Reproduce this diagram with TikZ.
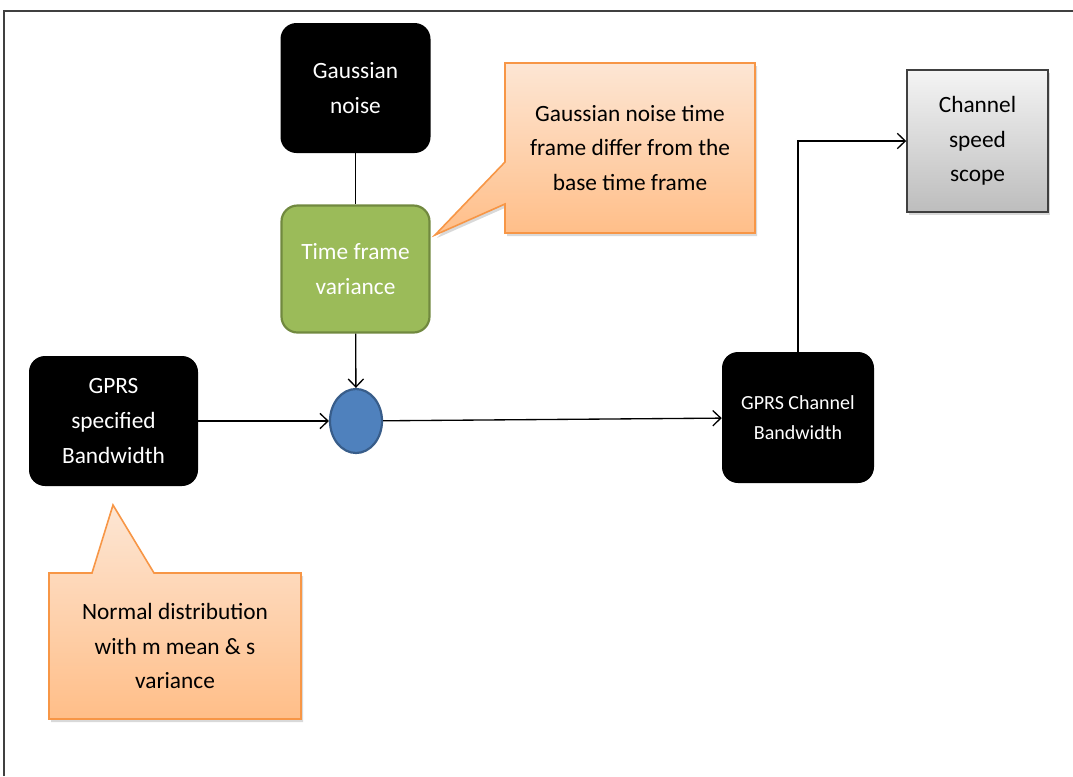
\documentclass[tikz,border=0pt]{standalone}
\usepackage{fontspec}
\setmainfont{Carlito}
\usetikzlibrary{arrows.meta,shapes.geometric,shadows}
\newlength\pxu
\setlength\pxu{0.75pt}
\definecolor{noteTop}{HTML}{FDE6D4}
\definecolor{noteBot}{HTML}{FFBE88}
\definecolor{noteLine}{HTML}{F79646}
\definecolor{greenFill}{HTML}{9BBB59}
\definecolor{greenLine}{HTML}{71893F}
\definecolor{blueFill}{HTML}{4F81BD}
\definecolor{blueLine}{HTML}{385D8A}
\definecolor{scopeTop}{HTML}{F4F4F4}
\definecolor{scopeBot}{HTML}{BDBDBD}
\definecolor{frameGray}{HTML}{404040}
\begin{document}
\begin{tikzpicture}[x=0.75pt,y=-0.75pt,
  txt/.style={font=\fontsize{17.5}{26}\selectfont, align=center},
  blackbox/.style={txt, rectangle, rounded corners=16\pxu, fill=black, text=white, inner sep=0pt},
  greenbox/.style={txt, rectangle, rounded corners=16\pxu, fill=greenFill, draw=greenLine, line width=2.2\pxu, text=white, inner sep=0pt},
  scopebox/.style={txt, rectangle, top color=scopeTop, bottom color=scopeBot, draw=frameGray, line width=1.5\pxu, inner sep=0pt,
    drop shadow={opacity=0.3, shadow xshift=2\pxu, shadow yshift=-3\pxu}},
  notefill/.style={top color=noteTop, bottom color=noteBot, draw=noteLine, line width=1.6\pxu, line join=miter,
    drop shadow={opacity=0.3, shadow xshift=2\pxu, shadow yshift=-3\pxu}},
  notetext/.style={txt, text=black, inner sep=0pt},
  arr/.style={-{Straight Barb[length=6pt,width=11.5pt]}, line width=1pt},
  wire/.style={line width=1pt}]
\useasboundingbox (0,0) rectangle (1073,776);

% outer frame (open to the right and bottom)
\draw[frameGray, line width=2\pxu] (4,776) -- (4,11) -- (1073,11);

% callout shapes
\path[notefill] (505,63) -- (755,63) -- (755,233) -- (505,233) -- (505,204)
  -- (435,235) -- (505,162) -- cycle;
\path[notefill] (49,573) -- (92,573) -- (113,505) -- (154,573) -- (301,573)
  -- (301,719) -- (49,719) -- cycle;
\node[notetext] (note1) at (630,148) {Gaussian noise time\\frame differ from the\\base time frame};
\node[notetext] (note2) at (175,646) {Normal distribution\\with m mean \& s\\variance};

% blocks
\node[blackbox, minimum width=150\pxu, minimum height=130\pxu] (gnoise) at (355.5,88) {Gaussian\\noise};
\node[greenbox, minimum width=148\pxu, minimum height=127\pxu] (tfv) at (355.5,269) {Time frame\\variance};
\node[ellipse, fill=blueFill, draw=blueLine, line width=2.2\pxu, minimum width=52\pxu, minimum height=64\pxu, inner sep=0pt] (sum) at (356,421) {};
\node[blackbox, minimum width=169\pxu, minimum height=130\pxu] (gprsin) at (113.5,421) {GPRS\\specified\\Bandwidth};
\node[blackbox, font=\fontsize{15}{22.5}\selectfont, minimum width=152\pxu, minimum height=131\pxu] (gprsch) at (798,417.5) {GPRS Channel\\Bandwidth};
\node[scopebox, minimum width=141\pxu, minimum height=142\pxu] (scope) at (977.5,141) {Channel\\speed\\scope};

% connectors
\draw[wire] (gnoise) -- (tfv);
\draw[arr] (tfv) -- (sum);
\draw[arr] (gprsin) -- (sum);
\draw[arr] (sum) -- (gprsch);
\draw[arr] (gprsch.north) |- (scope.west);
\end{tikzpicture}
\end{document}
